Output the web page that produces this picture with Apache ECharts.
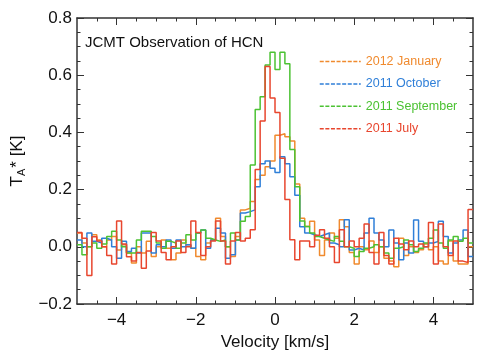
<!DOCTYPE html>
<html>
<head>
<meta charset="utf-8">
<script src="https://cdn.jsdelivr.net/npm/echarts@6/dist/echarts.min.js"></script>
<style>html,body{margin:0;padding:0;background:#fff}#c{width:484px;height:363px}</style>
</head>
<body>
<div id="c"></div>
<script>
// channel left edges (km/s), plus closing right edge
const edges = [-5.0,-4.875,-4.75,-4.625,-4.5,-4.375,-4.25,-4.125,-4.0,-3.875,-3.75,-3.625,-3.5,-3.375,-3.25,-3.125,-3.0,-2.875,-2.75,-2.625,-2.5,-2.375,-2.25,-2.125,-2.0,-1.875,-1.75,-1.625,-1.5,-1.375,-1.25,-1.125,-1.0,-0.875,-0.75,-0.625,-0.5,-0.375,-0.25,-0.125,0.0,0.125,0.25,0.375,0.5,0.625,0.75,0.875,1.0,1.125,1.25,1.375,1.5,1.625,1.75,1.875,2.0,2.125,2.25,2.375,2.5,2.625,2.75,2.875,3.0,3.125,3.25,3.375,3.5,3.625,3.75,3.875,4.0,4.125,4.25,4.375,4.5,4.625,4.75,4.875,5.0];

const jan2012 = [0.048,0.013,0.0,0.042,0.024,0.0,0.024,0.036,-0.011,0.007,
 -0.022,-0.057,0.0,-0.022,0.019,-0.034,0.0,0.024,-0.005,-0.045,
 -0.022,0.024,0.007,-0.005,-0.034,-0.045,0.013,0.024,0.1,0.036,
 0.0,-0.034,0.036,0.129,0.135,0.158,0.235,0.25,0.28,0.30,
 0.39,0.395,0.385,0.37,0.22,0.1,0.071,0.089,0.024,-0.03,
 0.024,0.048,0.03,0.095,0.07,-0.02,-0.06,0.0,-0.01,0.02,
 -0.02,0.0,-0.04,-0.05,-0.07,0.03,-0.03,0.0,-0.02,-0.01,
 0.01,-0.01,0.0,-0.05,-0.06,0.02,-0.05,-0.06,-0.06,0.0];

const oct2011 = [0.024,0.0,0.048,0.019,0.013,0.03,0.024,0.0,-0.04,0.019,
 -0.016,-0.005,-0.022,0.048,0.048,-0.022,0.007,0.0,0.024,-0.005,
 0.024,0.0,0.007,-0.005,0.048,0.059,-0.005,0.024,0.065,0.048,
 -0.04,-0.028,0.024,0.118,0.123,0.129,0.21,0.29,0.30,0.275,
 0.26,0.315,0.29,0.245,0.18,0.07,0.048,0.042,0.036,0.042,
 0.048,0.013,0.007,0.0,0.095,-0.011,-0.005,-0.011,0.048,0.1,
 0.048,0.024,0.0,0.059,0.013,-0.045,0.013,-0.022,0.094,0.019,
 0.0,0.013,0.019,0.089,0.036,-0.022,0.013,0.024,0.059,-0.034];

const sep2011 = [0.007,-0.028,0.0,0.013,-0.005,0.01,0.036,0.054,0.024,0.0,
 -0.022,-0.022,0.024,0.054,0.054,0.036,0.013,-0.005,0.019,0.013,
 -0.005,0.013,0.042,0.024,0.048,0.059,0.03,0.024,0.019,0.024,
 0.0,0.048,0.024,0.089,0.106,0.286,0.48,0.525,0.636,0.68,
 0.62,0.68,0.64,0.34,0.21,0.09,0.071,0.048,0.036,0.03,
 0.024,0.019,0.036,0.019,0.0,-0.005,-0.034,-0.016,-0.005,0.0,
 0.007,0.0,-0.022,-0.04,-0.005,0.0,0.024,0.007,-0.016,-0.005,
 0.013,0.03,0.059,0.013,-0.005,0.024,0.036,0.019,0.03,0.013];

const jul2011 = [0.05,0.03,-0.10,0.035,0.02,0.0,-0.03,-0.06,0.09,0.01,
 -0.035,-0.05,-0.02,-0.075,-0.015,0.05,0.02,-0.02,-0.045,0.0,
 0.02,-0.02,0.0,0.09,0.05,-0.03,0.0,0.02,0.09,0.02,
 -0.06,0.02,0.05,0.02,0.03,0.06,0.27,0.44,0.63,0.52,
 0.47,0.31,0.165,0.025,-0.045,0.02,0.02,0.0,0.04,0.06,
 0.03,0.0,-0.055,0.06,0.0,0.02,0.0,0.03,0.08,-0.02,
 -0.06,0.05,-0.03,-0.06,0.03,0.01,-0.01,0.02,0.0,0.01,
 0.0,0.085,-0.06,0.08,0.0,-0.03,0.02,-0.05,-0.055,0.13];

const xMajorTicks = [-4,-2,0,2,4];
const xMinorTicks = [-4.5,-3.5,-3,-2.5,-1.5,-1,-0.5,0.5,1,1.5,2.5,3,3.5,4.5];
const seriesNames = ['2012 January','2011 October','2011 September','2011 July'];
const seriesColors = ['#f08a2e','#2f7fd8','#4cc233','#e8462e'];
const seriesValues = [jan2012, oct2011, sep2011, jul2011];

function stepData(vals){
  const d = vals.map((v,i)=>[edges[i], v]);
  d.push([edges[vals.length], vals[vals.length-1]]);
  return d;
}
const fmt = v => (v < 0 ? '\u2212' : '') + Math.abs(v);
const fmtY = v => (v < 0 ? '\u2212' : '') + Math.abs(v).toFixed(1);

const axisCol = '#333';
const font = 'Liberation Sans, Helvetica, Arial, sans-serif';

function xAx(pos, major, labels){
  return {
    type:'value', position: pos, min:-5, max:5,
    axisLine:{show: major, onZero:false, lineStyle:{color:axisCol, width:1.5}},
    splitLine:{show:false},
    axisTick:{show:true, inside:true, length: major?7:3.5, customValues: major? xMajorTicks : xMinorTicks, lineStyle:{color:axisCol, width:1}},
    axisLabel:{show: labels, customValues: xMajorTicks, formatter: fmt, fontSize:17, fontFamily:font, color:'#111', margin:8},
    name: labels ? 'Velocity [km/s]' : '',
    nameLocation:'middle', nameGap:29,
    nameTextStyle:{fontSize:17, fontFamily:font, color:'#111'}
  };
}
function yAx(pos, labels){
  return {
    type:'value', position: pos, min:-0.2, max:0.8, interval:0.2,
    axisLine:{show:true, onZero:false, lineStyle:{color:axisCol, width:1.5}},
    splitLine:{show:false},
    axisTick:{show:true, inside:true, length:7, lineStyle:{color:axisCol, width:1}},
    minorTick:{show:true, splitNumber:4, length:3.5, lineStyle:{color:axisCol, width:1}},
    axisLabel:{show: labels, formatter: fmtY, fontSize:17, fontFamily:font, color:'#111', margin:5},
    name: labels ? '{t|T}{s|A}{t|* [K]}' : '',
    nameLocation:'middle', nameGap:46, nameRotate:90,
    nameTextStyle:{fontSize:17, fontFamily:font, color:'#111', rich:{t:{fontSize:17, fontFamily:font, color:'#111'}, s:{fontSize:11, fontFamily:font, color:'#111', padding:[10,1,0,0]}}}
  };
}

const chart = echarts.init(document.getElementById('c'), null, {renderer:'canvas'});
chart.setOption({
  animation:false,
  backgroundColor:'#fff',
  grid:{left:77, right:11, top:18, bottom:59, containLabel:false},
  xAxis:[xAx('bottom', true, true), xAx('bottom', false, false), xAx('top', true, false), xAx('top', false, false)],
  yAxis:[yAx('left', true), yAx('right', false)],
  title:{text:'JCMT Observation of HCN', left:80, top:30, textStyle:{fontSize:15, fontWeight:'normal', fontFamily:font, color:'#111'}},
  legend:{
    orient:'vertical', left:314, top:50, itemGap:9.4, itemWidth:41, itemHeight:14,
    itemStyle:{opacity:0},
    lineStyle:{type:[4,1.6], width:1.5},
    data: seriesNames.map((n,i)=>({name:n, textStyle:{color:seriesColors[i], fontSize:12.5, fontFamily:font}}))
  },
  series: seriesValues.map((vals,i)=>({
    name: seriesNames[i], type:'line', step:'end', data: stepData(vals),
    showSymbol:false, symbol:'none', clip:true,
    lineStyle:{color:seriesColors[i], width:1.5}, itemStyle:{color:seriesColors[i]}
  }))
});
</script>
</body>
</html>
